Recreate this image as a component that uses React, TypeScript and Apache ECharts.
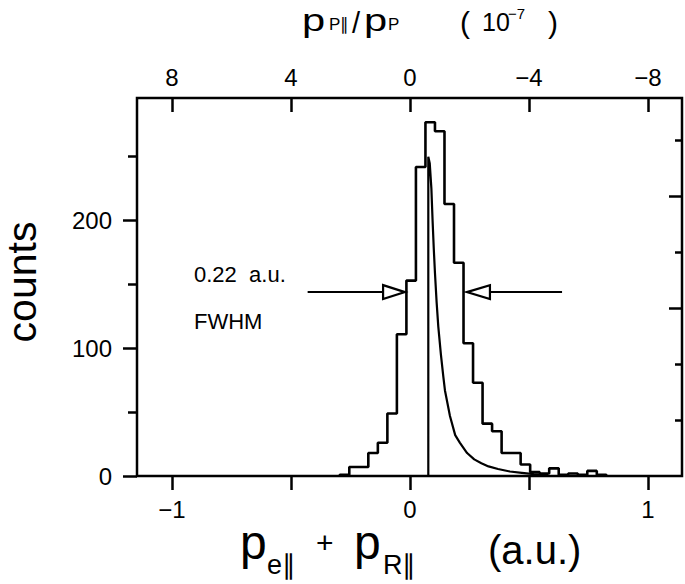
import React, { useEffect, useRef } from 'react';
import * as echarts from 'echarts';

// ---- data ----
const BIN_HALF = 0.02;
const binCenters = [-0.275, -0.235, -0.195, -0.155, -0.115, -0.075, -0.035, 0.005, 0.045, 0.085, 0.125, 0.165, 0.205, 0.245, 0.285, 0.325, 0.365, 0.405, 0.445, 0.485, 0.525, 0.565, 0.605, 0.645, 0.685, 0.725, 0.765, 0.805];
const binCounts = [1, 7, 7, 18, 26, 49, 111, 153, 242, 277, 270, 213, 167, 104, 73, 41, 35, 18, 18, 9, 3, 2, 6, 1, 2, 1, 4, 1];

const curveX = [0.077, 0.077, 0.083, 0.09, 0.095, 0.1, 0.105, 0.112, 0.119, 0.13, 0.14, 0.147, 0.168, 0.19, 0.21, 0.24, 0.27, 0.3, 0.33, 0.37, 0.42, 0.47, 0.52, 0.58];
const curveY = [0, 250, 245, 225, 200, 178, 159, 136, 117, 95, 78, 67, 47, 32, 26, 18, 13, 10, 7.5, 5.5, 3.5, 2.5, 1.5, 0.8];

const xBottomLabels = [-1, 0, 1];
const xBottomTicks = [-1, -0.5, 0, 0.5, 1];
const xTopLabels = [8, 4, 0, -4, -8];
const yLabels = [0, 100, 200];
const yMinorTicks = [50, 150, 250];
const rightTicksLong = [3, 5];
const rightTicksShort = [1, 2, 4, 6];

// FWHM annotation (data coordinates)
const fwhmLevel = 144;
const fwhmLeft = { lineStart: -0.43, base: -0.113, tip: -0.021 };
const fwhmRight = { lineStart: 0.639, base: 0.336, tip: 0.239 };

const X_MIN = -1.147;
const X_MAX = 1.143;
const Y_MAX = 296;
const TOP_FACTOR = -8; // top axis value = -8 * bottom value (1e-7 units)
const RIGHT_UNIT = 43.8;

const FONT = '"Liberation Sans", Arial, Helvetica, sans-serif';

const minusFmt = (v: number) => (v < 0 ? '\u2212' + Math.abs(v) : String(v));

export default function App() {
  const ref = useRef<HTMLDivElement>(null);
  useEffect(() => {
    const chart = echarts.init(ref.current!, null, { renderer: 'svg' });
    const histData: number[][] = [[binCenters[0] - BIN_HALF, 0]];
    binCenters.forEach((c, i) => histData.push([c - BIN_HALF, binCounts[i]]));
    histData.push([binCenters[binCenters.length - 1] + BIN_HALF, 0]);
    const curveData = curveX.map((x, i) => [x, curveY[i]]);

    const tickStyle = { color: '#000', width: 2.5 };
    const labelBase = { color: '#000', fontFamily: FONT, fontSize: 24 };
    const noLine = { show: false, onZero: false };

    chart.setOption({
      animation: false,
      backgroundColor: '#fff',
      grid: {
        left: 137, right: 3, top: 98, bottom: 108,
        show: true, borderColor: '#000', borderWidth: 2.5,
        outerBoundsMode: 'none',
      },
      xAxis: [
        {
          type: 'value', position: 'bottom', min: X_MIN, max: X_MAX,
          axisLine: noLine, splitLine: { show: false },
          axisTick: { show: true, customValues: xBottomTicks, length: 14, lineStyle: tickStyle },
          axisLabel: { ...labelBase, customValues: xBottomLabels, formatter: minusFmt, margin: 21 },
        },
        {
          type: 'value', position: 'top', inverse: true,
          min: TOP_FACTOR * X_MAX, max: TOP_FACTOR * X_MIN,
          axisLine: noLine, splitLine: { show: false },
          axisTick: { show: true, inside: true, customValues: xTopLabels, length: 14, lineStyle: tickStyle },
          axisLabel: { ...labelBase, customValues: xTopLabels, formatter: minusFmt, margin: 9 },
        },
      ],
      yAxis: [
        {
          type: 'value', position: 'left', offset: 0, min: 0, max: Y_MAX,
          axisLine: noLine, splitLine: { show: false },
          axisTick: { show: true, customValues: yLabels, length: 14, lineStyle: tickStyle },
          axisLabel: { ...labelBase, customValues: yLabels, margin: 25 },
        },
        {
          type: 'value', position: 'left', offset: 0, min: 0, max: Y_MAX,
          axisLine: noLine, splitLine: { show: false },
          axisTick: { show: true, customValues: yMinorTicks, length: 9, lineStyle: tickStyle },
          axisLabel: { show: false },
        },
        {
          type: 'value', position: 'right', offset: 0, min: 0, max: Y_MAX / RIGHT_UNIT,
          axisLine: noLine, splitLine: { show: false },
          axisTick: { show: true, inside: true, customValues: rightTicksLong, length: 13, lineStyle: tickStyle },
          axisLabel: { show: false },
        },
        {
          type: 'value', position: 'right', offset: 0, min: 0, max: Y_MAX / RIGHT_UNIT,
          axisLine: noLine, splitLine: { show: false },
          axisTick: { show: true, inside: true, customValues: rightTicksShort, length: 7, lineStyle: tickStyle },
          axisLabel: { show: false },
        },
      ],
      series: [
        {
          type: 'line', xAxisIndex: 0, yAxisIndex: 0, data: histData, step: 'end',
          symbol: 'none', lineStyle: { color: '#000', width: 2.6 }, silent: true,
        },
        {
          type: 'line', xAxisIndex: 0, yAxisIndex: 0, data: curveData,
          symbol: 'none', smooth: false, lineStyle: { color: '#000', width: 2.2 }, silent: true,
        },
      ],
    });

    const px = (x: number, y: number) =>
      chart.convertToPixel({ xAxisIndex: 0, yAxisIndex: 0 }, [x, y]) as number[];
    const arrow = (a: { lineStart: number; base: number; tip: number }) => {
      const s = px(a.lineStart, fwhmLevel);
      const b = px(a.base, fwhmLevel);
      const t = px(a.tip, fwhmLevel);
      const h = 7;
      return [
        { type: 'line', shape: { x1: s[0], y1: s[1], x2: b[0], y2: b[1] }, style: { stroke: '#000', lineWidth: 2 } },
        {
          type: 'polygon',
          shape: { points: [[t[0], t[1]], [b[0], b[1] - h], [b[0], b[1] + h]] },
          style: { fill: '#fff', stroke: '#000', lineWidth: 2.2 },
        },
      ];
    };

    // text placed by its baseline (converted to a 'middle' anchor)
    const txt = (text: string, x: number, baseline: number, size: number, scaleX = 1) => ({
      type: 'text', x, y: baseline - 0.36 * size, scaleX,
      style: { text, fontSize: size, fontFamily: FONT, fill: '#000', align: 'left', verticalAlign: 'middle' },
    });

    chart.setOption({
      graphic: [
        ...arrow(fwhmLeft),
        ...arrow(fwhmRight),
        txt('0.22  a.u.', 194, 282, 22),
        txt('FWHM', 194, 329, 22),
        // y title
        {
          type: 'text', x: 22, y: 282, rotation: Math.PI / 2,
          style: { text: 'counts', fontSize: 41, fontFamily: FONT, fill: '#000', align: 'center', verticalAlign: 'middle' },
        },
        // bottom title: p_e∥ + p_R∥ (a.u.)
        txt('p', 240, 560, 48),
        txt('e\u2225', 267, 575, 27),
        txt('+', 316, 553, 30),
        txt('p', 354, 560, 48),
        txt('R\u2225', 383, 575, 27),
        txt('(a.u.)', 488, 564, 40),
        // top title: p_P∥ / p_P ( 10^-7 )
        txt('p', 302, 31, 32, 1.3),
        txt('P\u2225', 329, 31, 17),
        txt('/', 352, 33, 29),
        txt('p', 364, 31, 32, 1.3),
        txt('P', 388, 31, 17),
        txt('(', 460, 33, 30),
        txt('10', 482, 31, 25),
        txt('\u22127', 508, 19, 15),
        txt(')', 548, 33, 30),
      ],
    });

    return () => chart.dispose();
  }, []);

  return (
    <div
      ref={ref}
      style={{ position: 'fixed', left: 0, top: 0, width: 685, height: 584, background: '#fff' }}
    />
  );
}
